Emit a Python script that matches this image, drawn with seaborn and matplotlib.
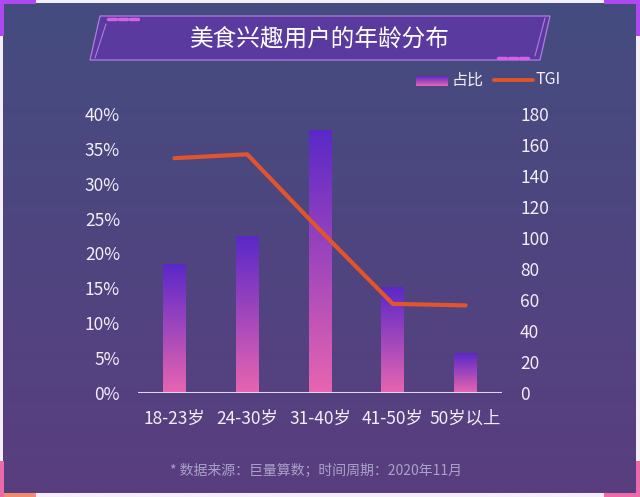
import numpy as np
import pandas as pd
import matplotlib
matplotlib.use("Agg")
import matplotlib.pyplot as plt
import seaborn as sns
from matplotlib import ticker
from matplotlib.colors import to_rgb
from matplotlib.patches import Polygon, Rectangle
from matplotlib.lines import Line2D

# data
age_groups = ["18-23岁", "24-30岁", "31-40岁", "41-50岁", "50岁以上"]
share = [0.184, 0.225, 0.377, 0.151, 0.057]
tgi = [151.5, 154, 105, 57.5, 56.5]
pct_ticks = [0, 0.05, 0.10, 0.15, 0.20, 0.25, 0.30, 0.35, 0.40]
tgi_ticks = [0, 20, 40, 60, 80, 100, 120, 140, 160, 180]

title = "美食兴趣用户的年龄分布"
source_note = "* 数据来源：巨量算数；时间周期：2020年11月"

W, H = 640, 497
BAR_TOP = "#5a28c8"
BAR_BOTTOM = "#e865b0"
LINE_COLOR = "#e0552c"
TEXT_COLOR = "#f2eefa"

sns.set_theme(style="white")
plt.rcParams["font.family"] = ["Noto Sans CJK SC", "DejaVu Sans"]
plt.rcParams["axes.unicode_minus"] = False


def px(x, y):
    return (x / W, 1 - y / H)


def gradient(top, bottom, n=256):
    t = np.linspace(0, 1, n)[:, None]
    a = np.array(to_rgb(bottom))
    b = np.array(to_rgb(top))
    return (a + (b - a) * t)[:, None, :]


fig = plt.figure(figsize=(W / 100, H / 100), dpi=100)
fig.patch.set_facecolor("#f3eef8")

# background
bg = fig.add_axes([0, 0, 1, 1], zorder=-10)
bg.set_xlim(0, 1)
bg.set_ylim(0, 1)
bg.axis("off")
x0, y0 = px(3, 493)
x1, y1 = px(636, 3)
bg.imshow(gradient("#444c80", "#5a3e7f"), extent=[x0, x1, y0, y1],
          aspect="auto", origin="lower")
# corner accents
for (cx, cy, w, h, c) in [(0, 0, 36, 4, "#b048f0"), (0, 0, 4, 36, "#b048f0"),
                          (604, 0, 36, 4, "#b048f0"), (636, 0, 4, 36, "#b048f0"),
                          (0, 493, 36, 4, "#f08a70"), (0, 461, 4, 36, "#ec6aa8"),
                          (604, 493, 36, 4, "#ec6aa8"), (636, 461, 4, 36, "#ec6aa8")]:
    xa, ya = px(cx, cy + h)
    bg.add_patch(Rectangle((xa, ya), w / W, h / H, color=c, lw=0))

# title box
box = [px(100, 16), px(550, 16), px(540, 60), px(90, 60)]
bg.add_patch(Polygon(box, closed=True, facecolor="#5a3a9e", edgecolor="#b47ae0", lw=0.9))
bg.add_line(Line2D(*zip(px(106, 24), px(95, 58)), color="#b47ae0", lw=0.8))
bg.add_line(Line2D(*zip(px(545, 18), px(535, 56)), color="#b47ae0", lw=0.8))
for i in range(3):
    bg.add_line(Line2D(*zip(px(108 + i * 11, 19), px(116 + i * 11, 19)), color="#d660e8", lw=2.5))
    bg.add_line(Line2D(*zip(px(498 + i * 11, 58), px(506 + i * 11, 58)), color="#d660e8", lw=2.5))
bg.text(*px(320, 39), title, color="white", fontsize=17, ha="center", va="center")

# legend
lx0, ly0 = px(416, 86)
lx1, ly1 = px(448, 76)
bg.imshow(gradient(BAR_TOP, BAR_BOTTOM), extent=[lx0, lx1, ly0, ly1], aspect="auto", origin="lower")
bg.text(*px(452, 80), "占比", color=TEXT_COLOR, fontsize=11.5, ha="left", va="center")
bg.add_line(Line2D(*zip(px(494, 80), px(533, 80)), color=LINE_COLOR, lw=2.8))
bg.text(*px(536, 80), "TGI", color=TEXT_COLOR, fontsize=11.5, ha="left", va="center")

# footer
bg.text(*px(316, 471), source_note, color="#a9a2c8", fontsize=10, style="italic",
        ha="center", va="center")
bg.set_xlim(0, 1)
bg.set_ylim(0, 1)

# main chart
ax = fig.add_axes([138 / W, 1 - 393 / H, 364 / W, 279 / H])
ax.set_facecolor("none")
df = pd.DataFrame({"age": age_groups, "share": share, "tgi": tgi})
sns.barplot(data=df, x="age", y="share", ax=ax, width=0.315, color=BAR_BOTTOM,
            order=age_groups)
ax.set_xlim(-0.5, 4.5)
ax.set_ylim(0, 0.4)
img = gradient(BAR_TOP, BAR_BOTTOM)
for p in ax.patches:
    bx, by = p.get_x(), p.get_y()
    bw, bh = p.get_width(), p.get_height()
    p.set_visible(False)
    ax.imshow(img, extent=[bx, bx + bw, by, by + bh], aspect="auto", origin="lower", zorder=2)
ax.set_xlim(-0.5, 4.5)
ax.set_ylim(0, 0.4)
ax.set_yticks(pct_ticks)
ax.yaxis.set_major_formatter(ticker.FuncFormatter(lambda v, _: f"{v * 100:.0f}%"))
for s in ax.spines.values():
    s.set_visible(False)
ax.axhline(0, color="#ddd6f0", lw=1.5, zorder=3)
ax.tick_params(axis="both", length=0, colors=TEXT_COLOR, labelsize=12.5)
ax.tick_params(axis="y", pad=13)
ax.tick_params(axis="x", pad=12)
ax.set(xlabel=None, ylabel=None)

ax2 = ax.twinx()
sns.lineplot(data=df, x="age", y="tgi", ax=ax2, color=LINE_COLOR, lw=3, sort=False)
ax2.set_ylim(0, 180)
ax2.set_xlim(-0.5, 4.5)
ax2.set_yticks(tgi_ticks)
for s in ax2.spines.values():
    s.set_visible(False)
ax2.tick_params(axis="y", length=0, colors=TEXT_COLOR, labelsize=12.5, pad=13)
ax2.set(xlabel=None, ylabel=None)
ax2.grid(False)
ax.grid(False)

fig.savefig("out.png", dpi=100)
